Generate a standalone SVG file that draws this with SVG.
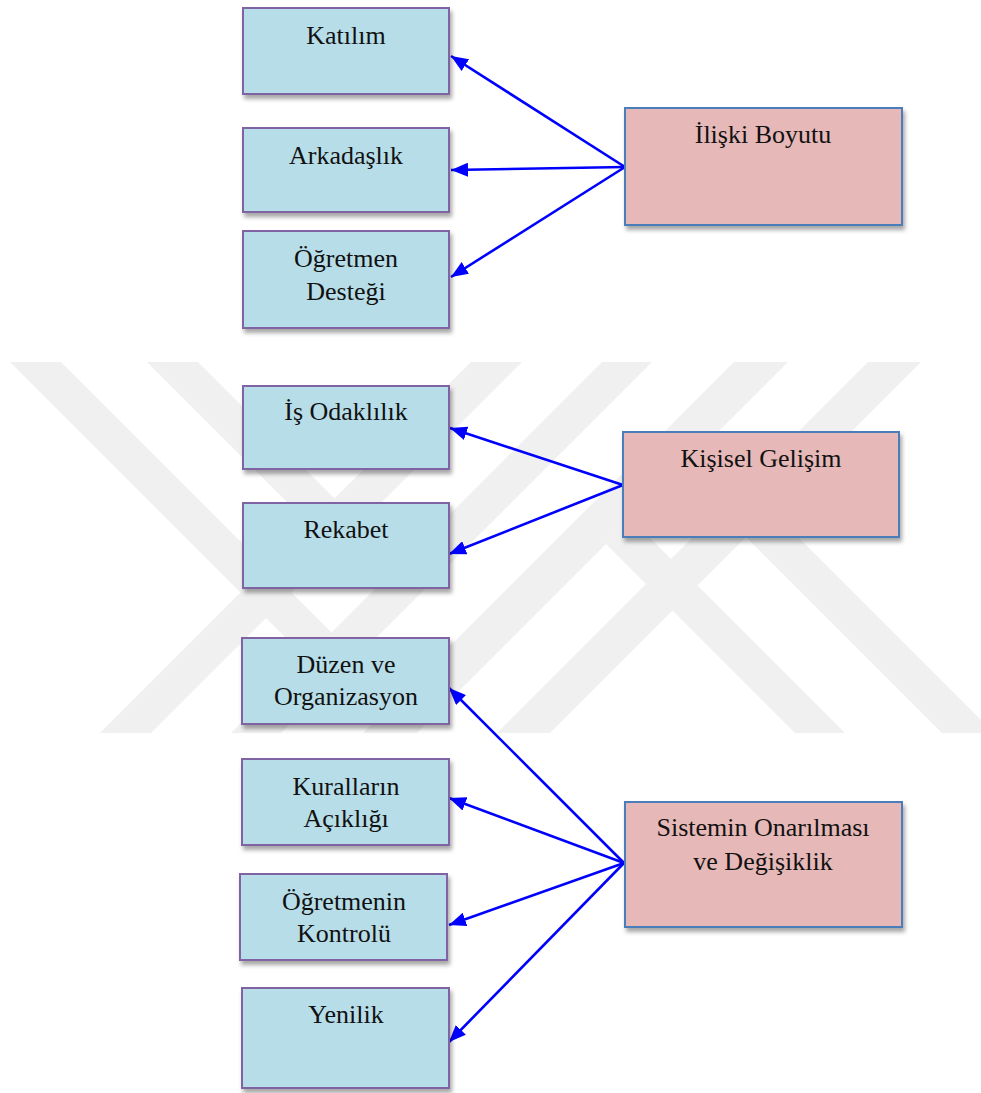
<svg xmlns="http://www.w3.org/2000/svg" width="981" height="1093" viewBox="0 0 981 1093">
<style>
.wm{fill:#f0f0f0}
.lb{fill:#b7dde8;stroke:#8064a2;stroke-width:2}
.rb{fill:#e6b8b7;stroke:#4a7ebb;stroke-width:2}
.t{font-family:"Liberation Serif",serif;font-size:26px;fill:#111;text-anchor:middle}
.c{stroke:#0000ff;stroke-width:2.6;fill:none;marker-end:url(#ah)}
</style>
<defs>
<filter id="sh" x="-10%" y="-10%" width="125%" height="130%">
<feDropShadow dx="2" dy="4" stdDeviation="2.2" flood-color="#000" flood-opacity="0.35"/>
</filter>
<marker id="ah" markerUnits="userSpaceOnUse" markerWidth="18" markerHeight="14" refX="17" refY="7" orient="auto">
<path d="M0,0 L17,7 L0,14 z" fill="#0000ff"/>
</marker>
</defs>
<rect width="981" height="1093" fill="#ffffff"/>
<g id="watermark">
<polygon class="wm" points="471,362 522,362 151,733 100,733"/>
<polygon class="wm" points="602,362 652,362 281,733 231,733"/>
<polygon class="wm" points="10,362 61,362 331.5,632.5 331,683"/>
<polygon class="wm" points="147,362 198,362 334.5,498.5 334.5,549.5"/>
<polygon class="wm" points="734,362 788,362 417,733 363,733"/>
<polygon class="wm" points="868,362 921,362 550,733 497,733"/>
<polygon class="wm" points="631,519 845,733 795,733 606,544"/>
<polygon class="wm" points="772,511 994,733 942,733 746,537"/>
</g>
<g id="connectors">
<line class="c" x1="625" y1="167" x2="451" y2="56"/>
<line class="c" x1="625" y1="167" x2="451" y2="170"/>
<line class="c" x1="625" y1="167" x2="451" y2="277"/>
<line class="c" x1="623" y1="485" x2="450" y2="428"/>
<line class="c" x1="623" y1="485" x2="449" y2="554"/>
<line class="c" x1="624" y1="863" x2="449" y2="688"/>
<line class="c" x1="624" y1="863" x2="449" y2="798"/>
<line class="c" x1="624" y1="863" x2="449" y2="925"/>
<line class="c" x1="624" y1="863" x2="449" y2="1042"/>
</g>
<g id="n-katilim"><rect class="lb" filter="url(#sh)" x="243" y="8" width="206" height="86"/><text class="t" x="346" y="44">Katılım</text></g>
<g id="n-arkadaslik"><rect class="lb" filter="url(#sh)" x="243" y="128" width="206" height="84"/><text class="t" x="346" y="164">Arkadaşlık</text></g>
<g id="n-ogretmen-destegi"><rect class="lb" filter="url(#sh)" x="243" y="231" width="206" height="97"/><text class="t" x="346" y="267">Öğretmen</text><text class="t" x="346" y="300">Desteği</text></g>
<g id="n-is-odaklilik"><rect class="lb" filter="url(#sh)" x="243" y="386" width="206" height="83"/><text class="t" x="346" y="420">İş Odaklılık</text></g>
<g id="n-rekabet"><rect class="lb" filter="url(#sh)" x="243" y="503" width="206" height="85"/><text class="t" x="346" y="538">Rekabet</text></g>
<g id="n-duzen"><rect class="lb" filter="url(#sh)" x="242" y="638" width="207" height="86"/><text class="t" x="346" y="673">Düzen ve</text><text class="t" x="346" y="705">Organizasyon</text></g>
<g id="n-kurallar"><rect class="lb" filter="url(#sh)" x="242" y="759" width="207" height="86"/><text class="t" x="346" y="795">Kuralların</text><text class="t" x="346" y="827">Açıklığı</text></g>
<g id="n-ogretmenin-kontrolu"><rect class="lb" filter="url(#sh)" x="240" y="874" width="207" height="86"/><text class="t" x="344" y="910">Öğretmenin</text><text class="t" x="344" y="942">Kontrolü</text></g>
<g id="n-yenilik"><rect class="lb" filter="url(#sh)" x="242" y="988" width="207" height="100"/><text class="t" x="346" y="1023">Yenilik</text></g>
<g id="n-iliski-boyutu"><rect class="rb" filter="url(#sh)" x="625" y="108" width="277" height="117"/><text class="t" x="763" y="143">İlişki Boyutu</text></g>
<g id="n-kisisel-gelisim"><rect class="rb" filter="url(#sh)" x="623" y="432" width="276" height="105"/><text class="t" x="761" y="467">Kişisel Gelişim</text></g>
<g id="n-sistemin"><rect class="rb" filter="url(#sh)" x="625" y="802" width="277" height="125"/><text class="t" x="763" y="836">Sistemin Onarılması</text><text class="t" x="763" y="870">ve Değişiklik</text></g>
</svg>
